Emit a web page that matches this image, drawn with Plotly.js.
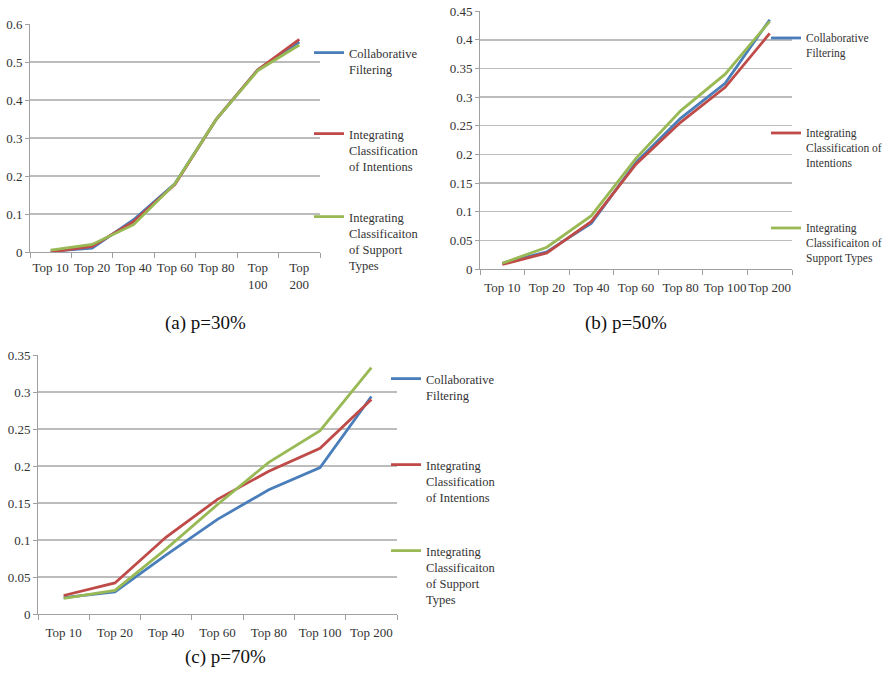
<!DOCTYPE html>
<html><head><meta charset="utf-8">
<script src="https://cdn.plot.ly/plotly-3.0.1.min.js"></script>
<style>html,body{margin:0;padding:0;background:#fff;overflow:hidden;font-family:'Liberation Serif',serif}
#chart{width:900px;height:678px}
#chart svg text{font-family:'Liberation Serif',serif !important}</style>
</head><body>
<div id="chart"></div>
<script>
// ---- data ----
const categories = ['Top 10','Top 20','Top 40','Top 60','Top 80','Top 100','Top 200'];
const tickLabelsA = ['Top 10','Top 20','Top 40','Top 60','Top 80','Top<br>100','Top<br>200'];
const tickLabelsBC = ['Top 10','Top 20','Top 40','Top 60','Top 80','Top 100','Top 200'];

const legendNamesA = ['Collaborative<br>Filtering','Integrating<br>Classification<br>of Intentions','Integrating<br>Classificaiton<br>of Support<br>Types'];
const legendNamesB = ['Collaborative<br>Filtering','Integrating<br>Classification of<br>Intentions','Integrating<br>Classificaiton of<br>Support Types'];
const legendNamesC = ['Collaborative<br>Filtering','Integrating<br>Classification<br>of Intentions','Integrating<br>Classificaiton<br>of Support<br>Types'];

const captions = ['(a) p=30%','(b) p=50%','(c) p=70%'];

// (a) p=30%
const cfA = [0.002,0.010,0.085,0.180,0.350,0.480,0.553];
const icA = [0.000,0.015,0.080,0.178,0.350,0.480,0.560];
const stA = [0.005,0.020,0.072,0.180,0.350,0.478,0.545];
// (b) p=50%
const cfB = [0.010,0.030,0.080,0.186,0.263,0.324,0.435];
const icB = [0.008,0.028,0.083,0.183,0.256,0.317,0.411];
const stB = [0.010,0.038,0.093,0.193,0.276,0.340,0.432];
// (c) p=70%
const cfC = [0.022,0.030,0.080,0.128,0.168,0.198,0.294];
const icC = [0.025,0.042,0.104,0.155,0.193,0.224,0.290];
const stC = [0.021,0.032,0.088,0.148,0.205,0.248,0.333];

const colors = ['#4A7EBB','#BE4B48','#98B954'];

// ---- layout helpers ----
const W = 900, H = 678;   // page is viewed through an 882px window; overflow is clipped like the original
const FONT = 'Liberation Serif';
const px = v => v / W;
const py = v => 1 - v / H;

const panels = [
  {series:[cfA,icA,stA], names:legendNamesA, ticks:tickLabelsA, x0:30, x1:320, yTop:24, yBot:252, ymax:0.6, dtick:0.1, standoff:3, legX:309, legFont:12.5, legY:[52,133,216]},
  {series:[cfB,icB,stB], names:legendNamesB, ticks:tickLabelsBC, x0:480, x1:792, yTop:11, yBot:269, ymax:0.45, dtick:0.05, standoff:6, legX:766, legFont:11.5, legY:[38,133,228]},
  {series:[cfC,icC,stC], names:legendNamesC, ticks:tickLabelsBC, x0:38, x1:397, yTop:355, yBot:614, ymax:0.35, dtick:0.05, standoff:6, legX:386, legFont:12.5, legY:[378,464,550]}
];
const capPos = [[205,323],[626,323],[225,657]];

const data = [];
const layout = {
  width: W, height: H,
  margin: {l:0, r:0, t:0, b:0},
  paper_bgcolor: '#fff', plot_bgcolor: '#fff',
  font: {family: FONT, size: 13, color: '#333'},
  showlegend: true,
  annotations: []
};

let legIdx = 0;
panels.forEach((p, k) => {
  const sfx = k === 0 ? '' : String(k + 1);
  layout['xaxis' + sfx] = {
    domain: [px(p.x0), px(p.x1)], anchor: 'y' + sfx,
    type: 'category', range: [-0.5, 6.5],
    tickmode: 'array', tickvals: categories, ticktext: p.ticks,
    tickson: 'boundaries', ticks: 'outside', ticklen: 5, tickcolor: '#a0a0a0', tickwidth: 1,
    showline: true, linecolor: '#a0a0a0', linewidth: 1,
    showgrid: false, zeroline: false, tickangle: 0,
    ticklabelstandoff: p.standoff,
    tickfont: {family: FONT, size: 13, color: '#333'}
  };
  layout['yaxis' + sfx] = {
    domain: [py(p.yBot), py(p.yTop)], anchor: 'x' + sfx,
    range: [0, p.ymax * 1.0005], tick0: 0, dtick: p.dtick,
    ticks: 'outside', ticklen: 4, tickcolor: '#a0a0a0',
    showline: true, linecolor: '#a0a0a0', linewidth: 1,
    showgrid: true, gridcolor: '#bcbcbc', gridwidth: 1.5, zeroline: false,
    tickfont: {family: FONT, size: 13, color: '#333'}
  };
  p.series.forEach((s, i) => {
    const lk = legIdx === 0 ? 'legend' : 'legend' + (legIdx + 1);
    data.push({
      type: 'scatter', mode: 'lines', x: categories, y: s,
      xaxis: 'x' + sfx, yaxis: 'y' + sfx,
      name: p.names[i], legend: lk, showlegend: true,
      line: {color: colors[i], width: 2.8}
    });
    layout[lk] = {
      x: px(p.legX), y: py(p.legY[i] - 14),
      xanchor: 'left', yanchor: 'top',
      bgcolor: 'rgba(0,0,0,0)', borderwidth: 0,
      valign: 'top', itemwidth: 30,
      font: {family: FONT, size: p.legFont, color: '#333'}
    };
    legIdx++;
  });
  layout.annotations.push({
    xref: 'paper', yref: 'paper', x: px(capPos[k][0]), y: py(capPos[k][1]),
    xanchor: 'center', yanchor: 'middle', showarrow: false,
    text: captions[k], font: {family: FONT, size: 19, color: '#111'}
  });
});

Plotly.newPlot('chart', data, layout, {displayModeBar: false, staticPlot: true});
</script>
</body></html>
